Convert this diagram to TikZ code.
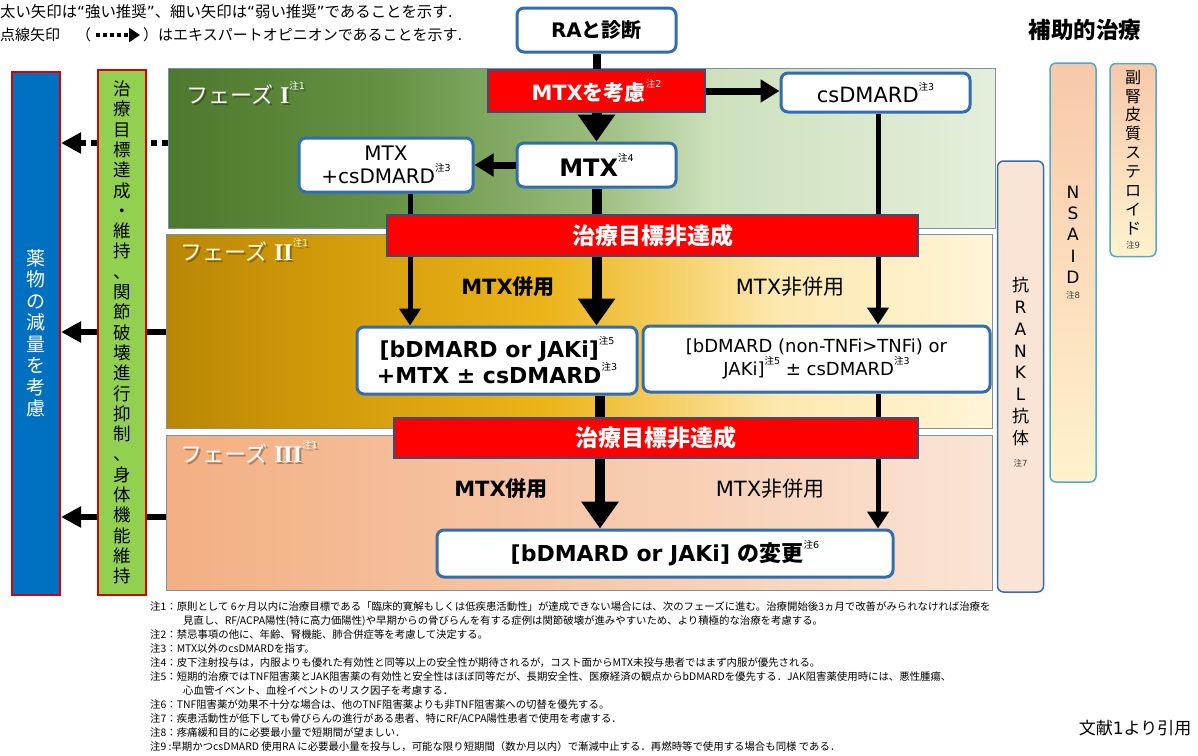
\documentclass[tikz,border=0pt]{standalone}
\usepackage{fontspec}
\usetikzlibrary{arrows.meta}
\setmainfont{DejaVu Sans}
\newfontfamily\jp{Noto Sans CJK JP}
\newfontfamily\dv{DejaVu Sans}
\newfontfamily\rom{Liberation Serif}
\newcommand\latfont{\dv}
\XeTeXinterchartokenstate=1
\newXeTeXintercharclass\cjkcls
\newcount\cjkc
\cjkc="3000
\loop\XeTeXcharclass\cjkc=\cjkcls\advance\cjkc by 1\relax\ifnum\cjkc<"A000\repeat
\cjkc="FE10
\loop\XeTeXcharclass\cjkc=\cjkcls\advance\cjkc by 1\relax\ifnum\cjkc<"FFF0\repeat
\XeTeXinterchartoks 0 \cjkcls={\jp}
\XeTeXinterchartoks 4095 \cjkcls={\jp}
\XeTeXinterchartoks \cjkcls 0={\latfont}
\XeTeXinterchartoks \cjkcls 4095={\latfont}
\newcommand\fsz[2]{\fontsize{#1}{#2}\selectfont\lineskiplimit=-40pt}
\newcommand\chu[1]{\raisebox{0.6em}{\fontsize{9.5}{9.5}\selectfont\mdseries 注#1}}
\newcommand\romnum[1]{{\rom\bfseries\fontsize{24}{24}\selectfont #1}}

\definecolor{bbord}{RGB}{50,110,175}
\definecolor{rbord}{RGB}{55,80,120}
\definecolor{pbord}{RGB}{125,145,165}
\definecolor{redf}{RGB}{255,0,0}
\definecolor{bluef}{RGB}{0,112,192}
\definecolor{greenf}{RGB}{146,208,80}
\definecolor{rankf}{RGB}{250,228,214}
\definecolor{tealb}{RGB}{80,170,200}
\definecolor{nt}{RGB}{248,200,170}
\definecolor{nb}{RGB}{255,242,205}
\definecolor{pIa}{RGB}{78,120,45}
\definecolor{pIb}{RGB}{100,145,68}
\definecolor{pIc}{RGB}{150,185,120}
\definecolor{pId}{RGB}{205,225,188}
\definecolor{pIe}{RGB}{228,239,220}
\definecolor{pIIa}{RGB}{185,135,5}
\definecolor{pIIb}{RGB}{210,155,10}
\definecolor{pIIc}{RGB}{235,180,25}
\definecolor{pIId}{RGB}{245,205,95}
\definecolor{pIIe}{RGB}{252,232,175}
\definecolor{pIIf}{RGB}{255,245,215}
\definecolor{pIIIa}{RGB}{243,175,130}
\definecolor{pIIIb}{RGB}{247,200,170}
\definecolor{pIIIc}{RGB}{250,228,212}
\pgfdeclarehorizontalshading{shI}{100bp}{color(0bp)=(pIa); color(25bp)=(pIa); color(38bp)=(pIb); color(50bp)=(pIc); color(58bp)=(pId); color(75bp)=(pIe); color(100bp)=(pIe)}
\pgfdeclarehorizontalshading{shII}{100bp}{color(0bp)=(pIIa); color(25bp)=(pIIa); color(35bp)=(pIIb); color(48bp)=(pIIc); color(55bp)=(pIId); color(62bp)=(pIIe); color(75bp)=(pIIf); color(100bp)=(pIIf)}
\pgfdeclarehorizontalshading{shIII}{100bp}{color(0bp)=(pIIIa); color(25bp)=(pIIIa); color(50bp)=(pIIIb); color(75bp)=(pIIIc); color(100bp)=(pIIIc)}
\pgfdeclarelayer{fg}
\pgfsetlayers{main,fg}

\begin{document}
\begin{tikzpicture}[x=1pt,y=-1pt,
  phase/.style={shade,draw=pbord,line width=1pt,inner sep=0pt,outer sep=0pt},
  rbox/.style={draw=bbord,line width=3pt,fill=white,rounded corners=7pt,inner sep=0pt,align=center},
  redbar/.style={fill=redf,draw=rbord,line width=1.5pt,text=white,inner sep=0pt,font=\bfseries\fsz{21}{23}},
  plabel/.style={anchor=west,text=white,inner sep=0pt,font=\fsz{22}{24}},
  pshadow/.style={anchor=west,text=black,opacity=0.3,inner sep=0pt,font=\fsz{22}{24}},
  vcol/.style={inner sep=0pt,align=center},
  tiny/.style={inner sep=0pt,font=\fsz{8.5}{8.5},text=black!75},
  note/.style={anchor=west,inner sep=0pt,font={\jp\let\latfont\jp\fsz{10.4}{12}}},
  thickarrow/.style={line width=10pt,-{Triangle[length=27pt,width=36pt]}},
  midarrow/.style={line width=7pt,-{Triangle[length=19pt,width=22pt]}},
  thinarrow/.style={line width=5pt,-{Triangle[length=17pt,width=21pt]}},
  leftline/.style={line width=6pt},
  leftarrow/.style={line width=6pt,-{Triangle[length=20pt,width=20pt]}},
  dotline/.style={line width=6pt,dash pattern=on 6pt off 5pt},
]
\useasboundingbox[fill=white] (0,0) rectangle (1198,755);

% legend
\node[anchor=west,inner sep=0pt,font=\fsz{15.4}{17}] (lg1) at (0,12) {太い矢印は“強い推奨”、細い矢印は“弱い推奨”であることを示す.};
\node[anchor=west,inner sep=0pt,font=\fsz{15}{17}] (lg2) at (0,35) {点線矢印\hspace{16pt}（};
\node[anchor=west,inner sep=0pt,font=\fsz{15}{17}] (lg3) at (143,35) {）はエキスパートオピニオンであることを示す.};
\draw[line width=4pt,dash pattern=on 4pt off 3pt,-{Triangle[length=11pt,width=14pt]}] ([xshift=5pt]lg2.east) -- ([xshift=-3pt]lg3.west);

\node[inner sep=0pt,font=\bfseries\fsz{22.5}{24}] (aux) at (1085,30) {補助的治療};

% phases
\node[phase,shading=shI,minimum width=827pt,minimum height=160pt] (p1) at (581.5,148) {};
\node[phase,shading=shII,minimum width=826pt,minimum height=194pt] (p2) at (579,331) {};
\node[phase,shading=shIII,minimum width=826pt,minimum height=155pt] (p3) at (579,512.5) {};

\node[pshadow] (l1s) at (188,95) {フェーズ \romnum{I}\chu{1}};
\node[plabel] (l1) at (186,93) {フェーズ \romnum{I}\chu{1}};
\node[pshadow] (l2s) at (182,252) {フェーズ \romnum{II}\chu{1}};
\node[plabel,text=white!92!yellow] (l2) at (180,250) {フェーズ \romnum{II}\chu{1}};
\node[pshadow] (l3s) at (182,454) {フェーズ \romnum{III}\chu{1}};
\node[plabel] (l3) at (180,452) {フェーズ \romnum{III}\chu{1}};

% left columns
\node[draw=red!85!black,line width=2pt,fill=bluef,minimum width=48pt,minimum height=523pt,inner sep=0pt,text=white,align=center,font=\fsz{19}{21.5}] (b) at (36,333.5) {薬\\物\\の\\減\\量\\を\\考\\慮};
\node[draw=red!85!black,line width=2pt,fill=greenf,minimum width=48pt,minimum height=525pt,inner sep=0pt,align=center,font=\fsz{17.5}{20.3}] (g) at (122,332.5) {治\\療\\目\\標\\達\\成\\・\\維\\持\\、\\関\\節\\破\\壊\\進\\行\\抑\\制\\、\\身\\体\\機\\能\\維\\持};

% right columns
\node[rounded corners=6pt,draw=bbord,line width=1.5pt,fill=rankf,minimum width=46pt,minimum height=431pt,inner sep=0pt] (rk) at (1020.5,376.5) {};
\node[vcol,font=\fsz{17}{21.9}] (rkt) at (1020.5,361.5) {抗\\R\\A\\N\\K\\L\\抗\\体};
\node[tiny] (rkn) at (1020.5,463) {注7};
\node[rounded corners=6pt,draw=tealb,line width=1.5pt,shade,top color=nt,bottom color=nb,minimum width=46pt,minimum height=419pt,inner sep=0pt] (ns) at (1073,272.5) {};
\node[vcol,font=\fsz{17}{21.3}] (nst) at (1073,234.5) {N\\S\\A\\I\\D};
\node[tiny] (nsn) at (1073,295) {注8};
\node[rounded corners=6pt,draw=tealb,line width=1.5pt,shade,top color=nt,bottom color=nb,minimum width=46pt,minimum height=193pt,inner sep=0pt] (st) at (1133,160) {};
\node[vcol,font=\fsz{16}{18.9}] (stt) at (1133,152.5) {副\\腎\\皮\\質\\ス\\テ\\ロ\\イ\\ド};
\node[tiny] (stn) at (1133,245) {注9};

% main boxes
\node[rbox,minimum width=159pt,minimum height=44pt,font=\bfseries\fsz{20}{22}] (ra) at (596.5,30) {RAと診断};
\node[redbar,minimum width=217pt,minimum height=42pt] (mtxc) at (596.5,91) {MTXを考慮\chu{2}};
\node[rbox,minimum width=189pt,minimum height=39pt,font=\fsz{21}{23}] (csd) at (875.5,92.5) {csDMARD\chu{3}};
\node[rbox,minimum width=159pt,minimum height=44pt,font=\bfseries\fsz{24}{26}] (mtx) at (596.5,165) {MTX\chu{4}};
\node[rbox,minimum width=174pt,minimum height=54pt,font=\fsz{20}{23}] (mtxcs) at (386,165) {MTX\\+csDMARD\chu{3}};
\node[rbox,minimum width=280pt,minimum height=67pt,font=\bfseries\fsz{22}{26}] (bl) at (497,360.5) {[bDMARD or JAKi]\chu{5}\\+MTX ± csDMARD\chu{3}};
\node[rbox,minimum width=347pt,minimum height=66pt,font=\fsz{18}{23}] (br) at (816.5,359) {[bDMARD (non-TNFi>TNFi) or\\JAKi]\chu{5} ± csDMARD\chu{3}};
\node[rbox,minimum width=456pt,minimum height=47pt,font=\bfseries\fsz{22}{24}] (fin) at (665,553.5) {[bDMARD or JAKi] の変更\chu{6}};

% labels
\node[inner sep=0pt,font=\bfseries\fsz{21}{23}] (m1) at (508,287) {MTX併用};
\node[inner sep=0pt,font=\fsz{21}{23}] (m2) at (790,287) {MTX非併用};
\node[inner sep=0pt,font=\bfseries\fsz{21}{23}] (m3) at (501,489) {MTX併用};
\node[inner sep=0pt,font=\fsz{21}{23}] (m4) at (770,489) {MTX非併用};

% connectors
\draw[line width=8pt] (ra.south) -- (mtxc.north);
\draw[midarrow] (mtxc.east) -- (mtxc.east -| csd.west);
\draw[thickarrow] (mtxc.south) -- (mtx.north);
\draw[midarrow] (mtx.west) -- (mtxcs.east);
\draw[thickarrow] (mtx.south) -- (mtx.south |- bl.north);
\draw[thinarrow] ([xshift=24pt]mtxcs.south) -- ([xshift=24pt]mtxcs.south |- bl.north);
\draw[thinarrow] ([xshift=2.5pt]csd.south) -- ([xshift=2.5pt]csd.south |- br.north);
\draw[thickarrow] ([xshift=103pt]bl.south) -- ([xshift=103pt]bl.south |- fin.north);
\draw[thinarrow] ([xshift=61.5pt]br.south) -- ([xshift=61.5pt]br.south |- fin.north);

\coordinate (yA) at (0,143);
\coordinate (yB) at (0,332);
\coordinate (yC) at (0,517);
\draw[dotline] (p1.west |- yA) -- (g.east |- yA);
\draw[dotline,-{Triangle[length=20pt,width=20pt]}] (g.west |- yA) -- (b.east |- yA);
\draw[leftline] (p2.west |- yB) -- (g.east |- yB);
\draw[leftarrow] (g.west |- yB) -- (b.east |- yB);
\draw[leftline] (p3.west |- yC) -- (g.east |- yC);
\draw[leftarrow] (g.west |- yC) -- (b.east |- yC);

\begin{pgfonlayer}{fg}
\node[redbar,minimum width=531pt,minimum height=41pt,font=\bfseries\fsz{23}{25}] (bar1) at (652.5,235.5) {治療目標非達成};
\node[redbar,minimum width=524pt,minimum height=40pt,font=\bfseries\fsz{23}{25}] (bar2) at (656,438) {治療目標非達成};
\end{pgfonlayer}

% notes
\node[note] (n1) at (150,607) {注1：原則として 6ヶ月以内に治療目標である「臨床的寛解もしくは低疾患活動性」が達成できない場合には、次のフェーズに進む。治療開始後3ヵ月で改善がみられなければ治療を};
\node[note] (n1b) at (183,621) {見直し、RF/ACPA陽性(特に高力価陽性)や早期からの骨びらんを有する症例は関節破壊が進みやすいため、より積極的な治療を考慮する。};
\node[note] (n2) at (150,635) {注2：禁忌事項の他に、年齢、腎機能、肺合併症等を考慮して決定する。};
\node[note] (n3) at (150,649) {注3：MTX以外のcsDMARDを指す。};
\node[note] (n4) at (150,663) {注4：皮下注射投与は，内服よりも優れた有効性と同等以上の安全性が期待されるが，コスト面からMTX未投与患者ではまず内服が優先される。};
\node[note] (n5) at (150,677) {注5：短期的治療ではTNF阻害薬とJAK阻害薬の有効性と安全性はほぼ同等だが、長期安全性、医療経済の観点からbDMARDを優先する．JAK阻害薬使用時には、悪性腫瘍、};
\node[note] (n5b) at (183,691) {心血管イベント、血栓イベントのリスク因子を考慮する．};
\node[note] (n6) at (150,705) {注6：TNF阻害薬が効果不十分な場合は、他のTNF阻害薬よりも非TNF阻害薬への切替を優先する。};
\node[note] (n7) at (150,719) {注7：疾患活動性が低下しても骨びらんの進行がある患者、特にRF/ACPA陽性患者で使用を考慮する．};
\node[note] (n8) at (150,733) {注8：疼痛緩和目的に必要最小量で短期間が望ましい．};
\node[note] (n9) at (150,747) {注9 :早期かつcsDMARD 使用RA に必要最小量を投与し，可能な限り短期間（数か月以内）で漸減中止する．再燃時等で使用する場合も同様 である．};

\node[inner sep=0pt,font=\fsz{17}{19}] (src) at (1135,728) {文献1より引用};
\end{tikzpicture}
\end{document}
